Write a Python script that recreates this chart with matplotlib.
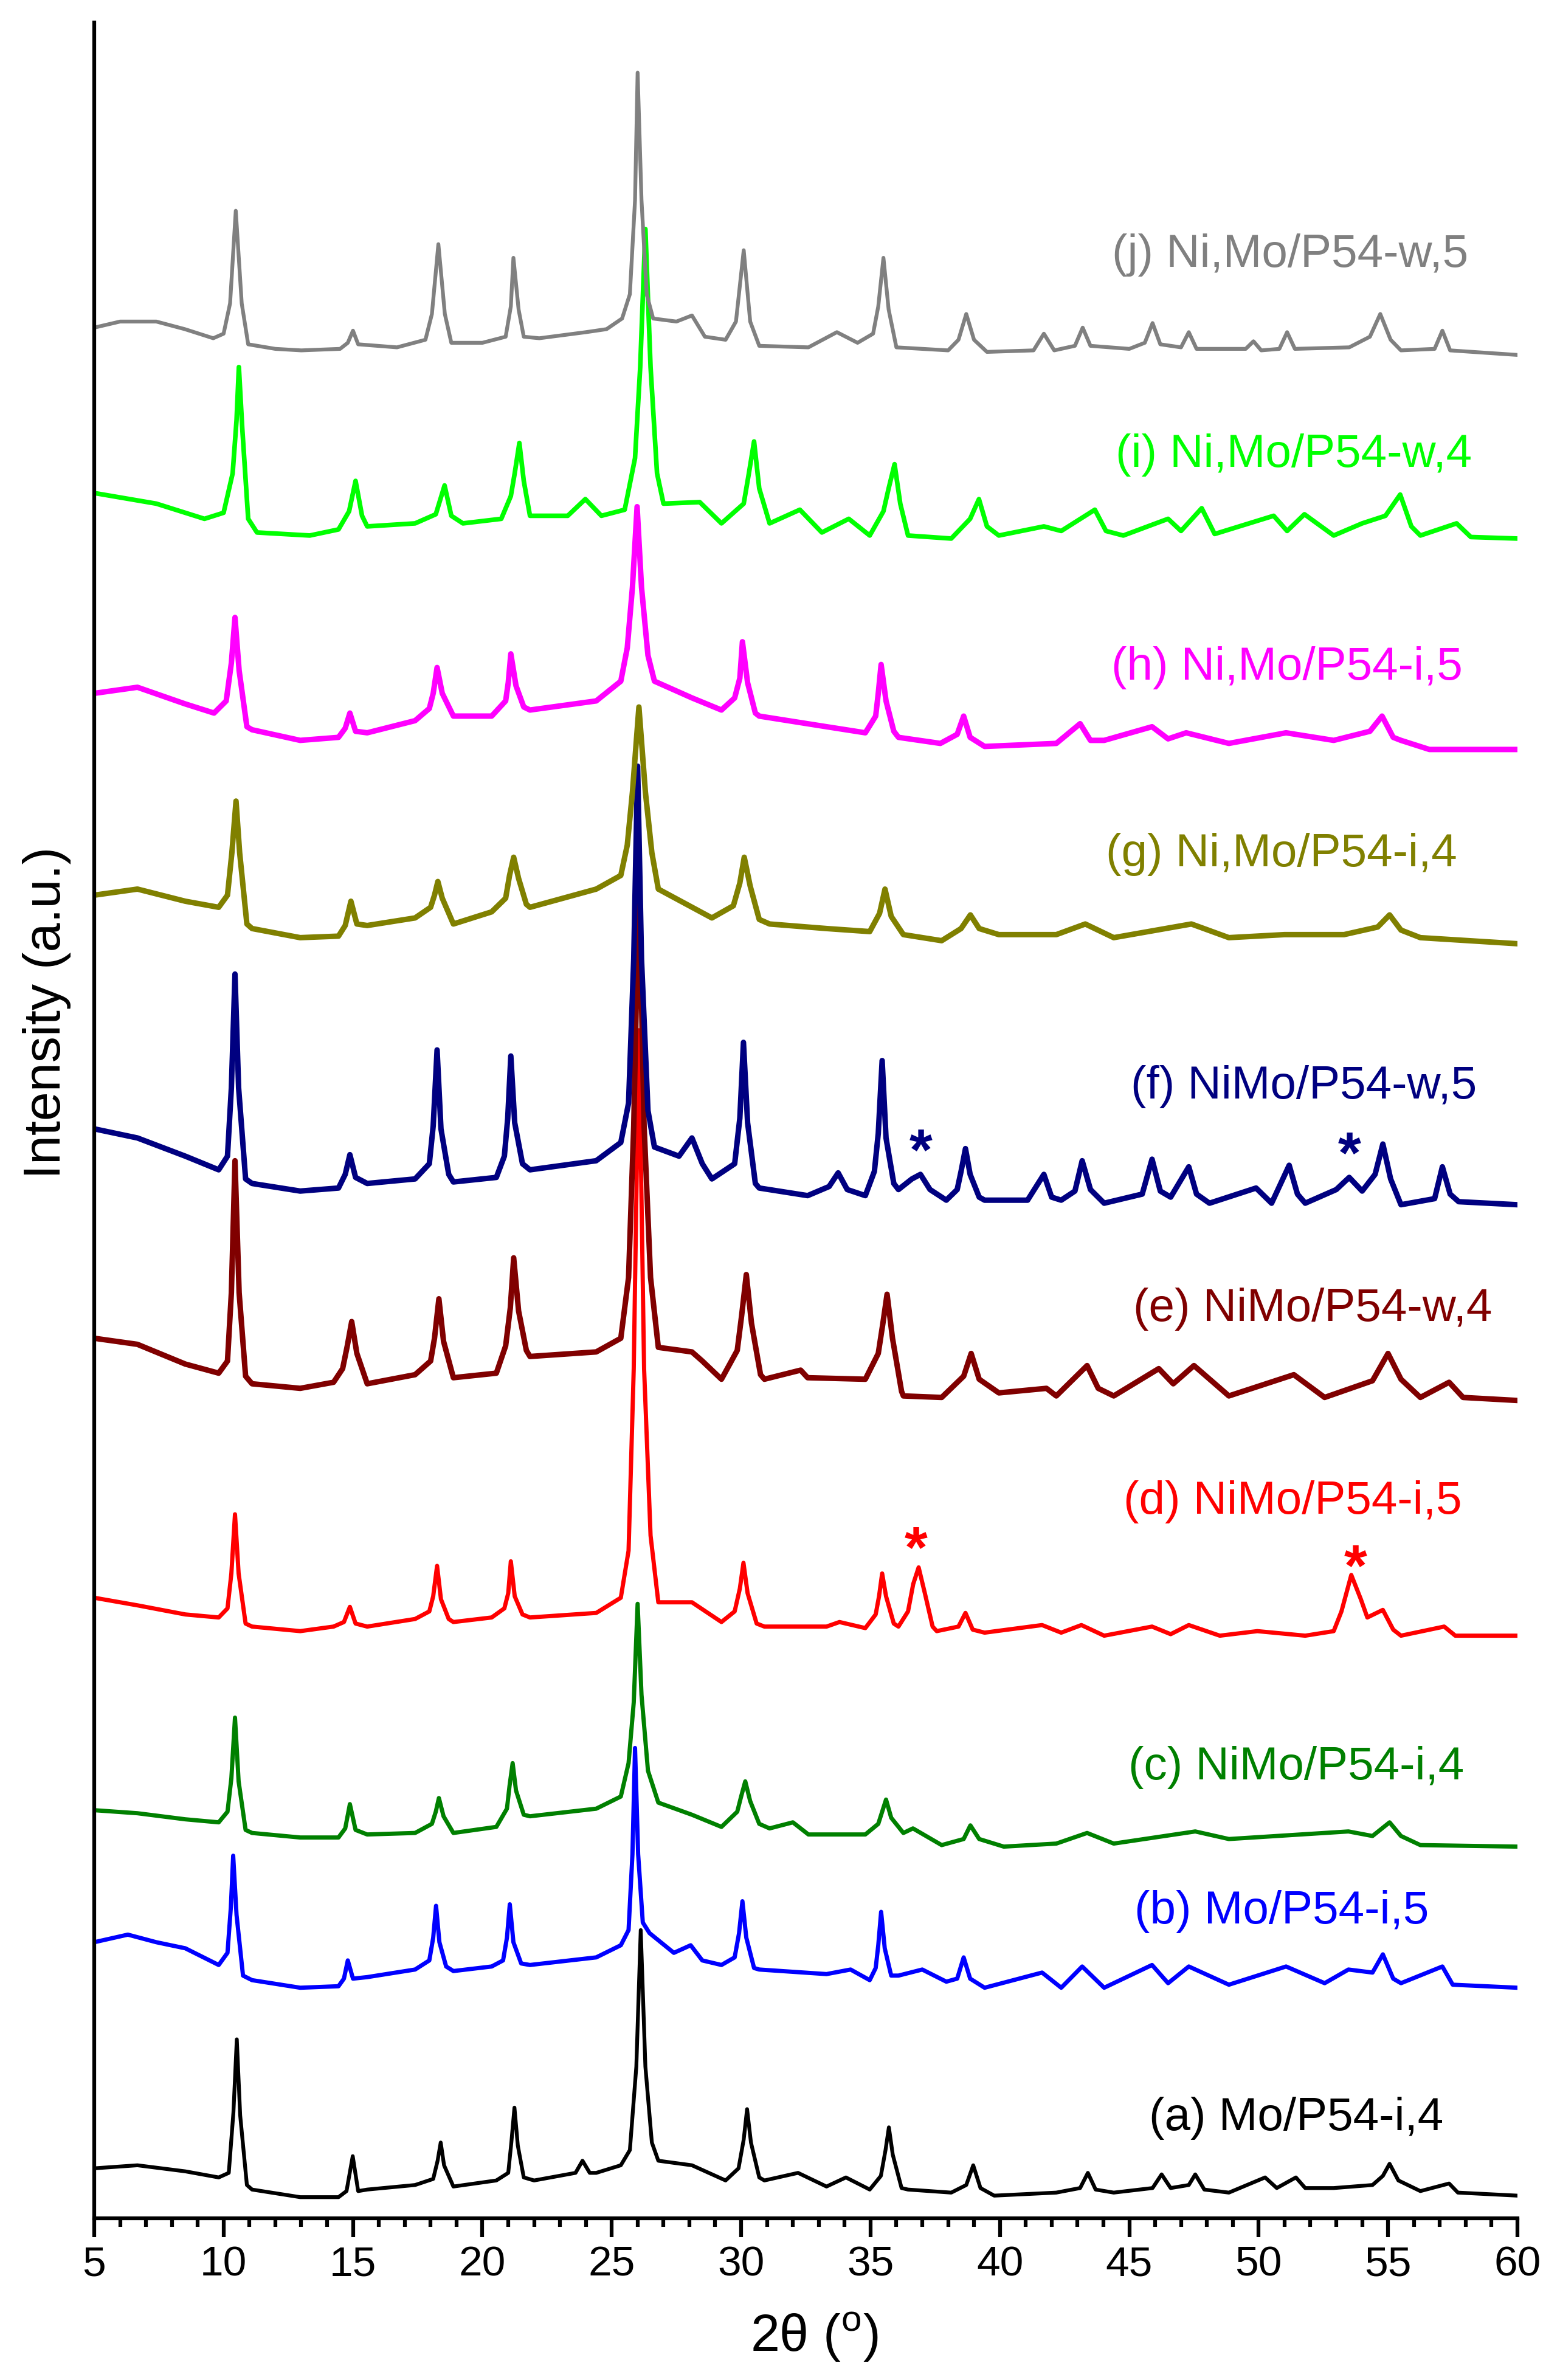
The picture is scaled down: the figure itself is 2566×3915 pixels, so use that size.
import numpy as np
import matplotlib
matplotlib.use("Agg")
import matplotlib.pyplot as plt
from matplotlib.ticker import MultipleLocator

plt.rcParams['font.family'] = ['Liberation Sans', 'DejaVu Sans']
plt.rcParams['mathtext.fontset'] = 'custom'
plt.rcParams['mathtext.rm'] = 'Liberation Sans'

# stacked XRD patterns, (2theta, intensity a.u. incl. offset)
xrd_a = [(5.0, 33), (6.67, 35), (8.52, 31), (9.81, 27), (10.2, 30), (10.38, 70), (10.51, 118), (10.64, 68),
         (10.9, 22), (11.1, 19), (12.96, 14), (14.44, 14), (14.75, 18), (14.99, 41), (15.2, 18), (15.55, 19),
         (17.4, 22), (18.1, 26), (18.27, 38), (18.39, 50), (18.52, 35), (18.88, 21), (20.54, 25), (21.0, 30),
         (21.12, 50), (21.24, 73), (21.37, 48), (21.6, 27), (22.0, 25), (23.6, 30), (23.87, 38), (24.15, 30),
         (24.4, 30), (25.35, 35), (25.7, 45), (25.95, 100), (26.12, 190), (26.3, 100), (26.55, 50), (26.8, 38),
         (28.1, 35), (29.4, 25), (29.9, 33), (30.1, 52), (30.23, 72), (30.38, 50), (30.7, 27), (30.9, 25),
         (32.2, 30), (33.3, 21), (34.05, 27), (34.97, 19), (35.4, 28), (35.58, 45), (35.71, 60), (35.86, 42),
         (36.2, 20), (36.45, 19), (38.12, 17), (38.7, 22), (38.97, 35), (39.25, 20), (39.78, 15), (42.18, 17),
         (43.1, 20), (43.4, 30), (43.7, 19), (44.4, 17), (45.9, 20), (46.25, 29), (46.6, 20), (47.3, 22),
         (47.55, 29), (47.9, 19), (48.85, 17), (50.25, 27), (50.7, 20), (51.44, 27), (51.8, 20), (52.9, 20),
         (54.4, 22), (54.8, 28), (55.06, 36), (55.4, 25), (56.25, 18), (57.36, 23), (57.7, 17), (60.0, 15)]

xrd_b = [(5.0, 182), (6.3, 187), (7.4, 182), (8.52, 178), (9.81, 167), (10.15, 175), (10.28, 205), (10.37, 239),
         (10.5, 200), (10.75, 160), (11.1, 157), (12.96, 152), (14.44, 153), (14.65, 158), (14.8, 170), (15.0, 158),
         (15.55, 159), (17.4, 164), (17.95, 170), (18.1, 185), (18.21, 206), (18.34, 182), (18.6, 166), (18.88, 163),
         (20.36, 166), (20.8, 170), (20.95, 185), (21.06, 207), (21.2, 182), (21.5, 168), (21.84, 167), (24.4, 172),
         (25.35, 180), (25.65, 190), (25.8, 240), (25.9, 310), (26.02, 240), (26.2, 195), (26.46, 188), (27.4, 175),
         (28.05, 180), (28.5, 170), (29.24, 167), (29.75, 172), (29.92, 188), (30.05, 209), (30.2, 185), (30.5, 165),
         (30.7, 164), (33.3, 161), (34.23, 164), (34.97, 157), (35.2, 165), (35.3, 180), (35.41, 202), (35.55, 178),
         (35.8, 160), (36.08, 160), (37.0, 164), (37.93, 156), (38.35, 158), (38.6, 172), (38.85, 158), (39.41, 152),
         (41.63, 162), (42.37, 152), (43.18, 166), (44.03, 152), (45.88, 167), (46.5, 155), (47.3, 166), (48.85, 154),
         (51.06, 166), (52.55, 155), (53.47, 164), (54.4, 162), (54.8, 174), (55.2, 158), (55.5, 155), (57.1, 166),
         (57.5, 154), (60.0, 152)]

xrd_c = [(5.0, 269), (6.67, 267), (8.52, 263), (9.81, 261), (10.15, 268), (10.3, 290), (10.44, 330), (10.58, 288),
         (10.85, 256), (11.1, 254), (12.96, 251), (14.44, 251), (14.7, 257), (14.88, 273), (15.1, 256), (15.55, 253),
         (17.4, 254), (18.05, 260), (18.2, 268), (18.32, 277), (18.5, 265), (18.88, 254), (20.54, 258), (20.95, 270),
         (21.05, 285), (21.17, 300), (21.3, 282), (21.6, 266), (21.84, 265), (24.4, 270), (25.35, 278), (25.65, 300),
         (25.85, 340), (26.0, 405), (26.15, 345), (26.4, 295), (26.8, 274), (28.1, 266), (29.24, 258), (29.85, 268),
         (30.0, 278), (30.16, 288), (30.35, 275), (30.7, 260), (31.1, 257), (32.0, 261), (32.6, 253), (34.8, 253),
         (35.3, 260), (35.45, 268), (35.6, 276), (35.8, 264), (36.27, 254), (36.64, 257), (37.75, 246), (38.6, 250),
         (38.86, 259), (39.2, 250), (40.15, 245), (42.18, 247), (43.37, 254), (44.4, 247), (47.55, 255), (48.85, 250),
         (53.47, 255), (54.4, 252), (55.06, 261), (55.5, 252), (56.25, 246), (60.0, 245)]

xrd_d = [(5.0, 409), (6.67, 404), (8.52, 398), (9.81, 396), (10.15, 402), (10.3, 425), (10.44, 464), (10.58, 425),
         (10.85, 392), (11.1, 390), (12.96, 387), (14.25, 390), (14.65, 393), (14.88, 403), (15.1, 392), (15.55, 390),
         (17.4, 395), (17.95, 400), (18.1, 410), (18.25, 430), (18.4, 408), (18.7, 395), (18.88, 393), (20.36, 396),
         (20.85, 402), (21.0, 412), (21.1, 433), (21.25, 410), (21.55, 398), (21.84, 396), (24.4, 399), (25.35, 409),
         (25.65, 440), (25.85, 560), (26.05, 783), (26.25, 560), (26.5, 450), (26.8, 406), (28.1, 406), (29.24, 393),
         (29.75, 400), (29.95, 415), (30.09, 432), (30.25, 412), (30.6, 392), (30.9, 390), (33.3, 390), (33.8, 393),
         (34.8, 389), (35.2, 398), (35.33, 410), (35.45, 425), (35.6, 410), (35.9, 392), (36.08, 390), (36.45, 400),
         (36.65, 418), (36.86, 429), (37.1, 412), (37.4, 390), (37.56, 387), (38.4, 390), (38.67, 399), (38.95, 388),
         (39.41, 386), (41.63, 391), (42.37, 386), (43.15, 391), (44.03, 384), (45.88, 390), (46.6, 385), (47.3, 391),
         (48.5, 384), (49.95, 387), (51.8, 384), (52.9, 387), (53.2, 400), (53.58, 424), (53.95, 408), (54.2, 396),
         (54.8, 401), (55.2, 388), (55.5, 384), (57.17, 390), (57.6, 384), (60.0, 384)]

xrd_e = [(5.0, 580), (6.67, 576), (8.52, 563), (9.81, 557), (10.15, 565), (10.3, 610), (10.44, 697), (10.6, 610),
         (10.85, 555), (11.1, 550), (12.96, 547), (14.25, 551), (14.6, 560), (14.78, 575), (14.95, 591), (15.15, 570),
         (15.55, 550), (17.4, 556), (18.0, 565), (18.15, 580), (18.32, 606), (18.5, 578), (18.88, 554), (20.54, 557),
         (20.9, 575), (21.08, 600), (21.21, 633), (21.4, 598), (21.7, 572), (21.84, 568), (24.4, 571), (25.35, 580),
         (25.65, 620), (25.85, 720), (26.05, 885), (26.25, 720), (26.5, 620), (26.8, 574), (28.1, 571), (28.5, 565),
         (29.24, 553), (29.85, 572), (30.02, 595), (30.2, 622), (30.4, 590), (30.75, 556), (30.9, 553), (32.3, 559),
         (32.57, 554), (34.8, 553), (35.3, 570), (35.48, 590), (35.64, 609), (35.85, 580), (36.2, 545), (36.27, 542),
         (37.75, 541), (38.6, 555), (38.89, 570), (39.2, 553), (39.96, 544), (41.8, 547), (42.18, 542), (43.37, 562),
         (43.8, 547), (44.4, 542), (46.14, 560), (46.7, 550), (47.5, 562), (48.85, 542), (51.36, 556), (52.55, 541),
         (54.4, 552), (55.0, 570), (55.5, 553), (56.25, 541), (57.36, 551), (57.9, 541), (60.0, 539)]

xrd_f = [(5.0, 718), (6.67, 712), (8.52, 700), (9.81, 691), (10.15, 700), (10.3, 745), (10.44, 820), (10.58, 745),
         (10.85, 685), (11.1, 682), (12.96, 677), (14.44, 679), (14.7, 688), (14.88, 701), (15.1, 686), (15.55, 682),
         (17.4, 685), (17.95, 695), (18.1, 720), (18.25, 770), (18.4, 718), (18.7, 688), (18.88, 683), (20.54, 686),
         (20.85, 700), (20.98, 725), (21.1, 766), (21.25, 722), (21.55, 695), (21.84, 691), (24.4, 697), (25.35, 709),
         (25.65, 735), (25.85, 830), (26.0, 957), (26.15, 830), (26.4, 730), (26.65, 706), (27.6, 700), (28.1, 712),
         (28.5, 695), (28.87, 685), (29.75, 695), (29.95, 725), (30.09, 775), (30.25, 722), (30.55, 682), (30.7, 679),
         (32.57, 674), (33.4, 680), (33.75, 689), (34.1, 678), (34.8, 674), (35.15, 690), (35.3, 715), (35.45, 763),
         (35.6, 712), (35.9, 682), (36.08, 678), (36.6, 685), (36.93, 688), (37.3, 678), (37.93, 671), (38.35, 678),
         (38.5, 690), (38.67, 705), (38.85, 688), (39.2, 673), (39.41, 671), (41.07, 671), (41.7, 688), (42.0, 673),
         (42.37, 671), (42.9, 677), (43.18, 697), (43.5, 678), (44.03, 669), (45.5, 675), (45.88, 698), (46.2, 677),
         (46.6, 673), (47.3, 693), (47.6, 675), (48.1, 669), (49.9, 679), (50.5, 669), (51.18, 694), (51.5, 675),
         (51.8, 669), (53.0, 678), (53.5, 686), (54.0, 677), (54.5, 688), (54.8, 708), (55.1, 685), (55.5, 668),
         (56.8, 672), (57.1, 693), (57.4, 675), (57.73, 670), (60.0, 668)]

xrd_g = [(5.0, 872), (6.67, 876), (8.52, 868), (9.81, 864), (10.15, 872), (10.32, 900), (10.48, 934), (10.62, 900),
         (10.9, 853), (11.1, 850), (12.96, 844), (14.44, 845), (14.7, 852), (14.92, 868), (15.15, 853), (15.55, 852),
         (17.4, 857), (18.0, 864), (18.15, 872), (18.28, 881), (18.45, 870), (18.88, 853), (20.36, 861), (20.9, 870),
         (21.05, 885), (21.21, 897), (21.4, 883), (21.7, 866), (21.84, 864), (24.4, 876), (25.35, 885), (25.6, 905),
         (25.8, 940), (26.05, 996), (26.3, 940), (26.55, 900), (26.8, 876), (28.87, 857), (29.7, 865), (29.95, 880),
         (30.12, 897), (30.35, 878), (30.7, 856), (31.1, 853), (33.3, 850), (34.97, 848), (35.35, 860), (35.56, 876),
         (35.8, 858), (36.27, 846), (37.75, 842), (38.5, 850), (38.86, 859), (39.2, 850), (39.96, 846), (42.18, 846),
         (43.3, 853), (44.4, 844), (47.4, 853), (48.85, 844), (51.0, 846), (53.3, 846), (54.6, 851), (55.06, 859),
         (55.5, 849), (56.25, 844), (60.0, 840)]

xrd_h = [(5.0, 1005), (6.67, 1009), (8.52, 998), (9.63, 992), (10.1, 1000), (10.3, 1025), (10.44, 1055), (10.6, 1020),
         (10.9, 983), (11.1, 981), (12.96, 974), (14.44, 976), (14.7, 982), (14.88, 992), (15.1, 980), (15.55, 979),
         (17.4, 987), (17.95, 995), (18.1, 1005), (18.25, 1022), (18.45, 1005), (18.88, 990), (20.36, 990), (20.9, 1000),
         (21.0, 1012), (21.1, 1031), (21.3, 1010), (21.6, 996), (21.84, 994), (24.4, 1000), (25.35, 1013), (25.6, 1035),
         (25.8, 1075), (25.98, 1128), (26.15, 1075), (26.4, 1030), (26.65, 1013), (28.1, 1002), (29.24, 994),
         (29.75, 1002), (29.95, 1015), (30.05, 1039), (30.25, 1012), (30.55, 992), (30.7, 990), (33.3, 983), (34.8, 979),
         (35.2, 990), (35.3, 1005), (35.41, 1024), (35.6, 1000), (35.9, 980), (36.08, 976), (37.7, 972), (38.35, 978),
         (38.6, 990), (38.85, 976), (39.41, 970), (42.18, 972), (43.1, 985), (43.5, 974), (44.03, 974), (45.88, 983),
         (46.5, 975), (47.2, 979), (48.85, 972), (51.06, 979), (52.9, 974), (54.3, 980), (54.77, 990), (55.2, 976),
         (55.5, 974), (56.6, 968), (60.0, 968)]

xrd_i = [(5.0, 1137), (7.4, 1130), (9.26, 1120), (10.0, 1124), (10.35, 1150), (10.5, 1185), (10.59, 1220),
         (10.72, 1180), (10.95, 1120), (11.29, 1111), (13.33, 1109), (14.44, 1113), (14.85, 1125), (15.1, 1145),
         (15.35, 1122), (15.55, 1115), (17.4, 1117), (18.2, 1123), (18.54, 1142), (18.8, 1122), (19.25, 1117),
         (20.73, 1120), (21.1, 1135), (21.25, 1150), (21.43, 1170), (21.6, 1145), (21.84, 1122), (23.3, 1122),
         (23.98, 1133), (24.6, 1122), (25.5, 1126), (25.9, 1160), (26.1, 1220), (26.3, 1311), (26.5, 1220),
         (26.75, 1150), (27.0, 1130), (28.4, 1131), (29.24, 1117), (30.1, 1130), (30.3, 1150), (30.5, 1171),
         (30.7, 1140), (31.1, 1117), (32.27, 1126), (33.12, 1111), (34.16, 1120), (34.97, 1109), (35.5, 1125),
         (35.7, 1140), (35.93, 1156), (36.15, 1130), (36.45, 1109), (38.12, 1107), (38.85, 1120), (39.19, 1133),
         (39.5, 1115), (39.96, 1109), (41.7, 1115), (42.37, 1112), (43.67, 1126), (44.1, 1112), (44.77, 1109),
         (46.5, 1120), (47.0, 1112), (47.8, 1127), (48.3, 1110), (50.58, 1122), (51.1, 1112), (51.77, 1123),
         (52.9, 1109), (54.0, 1117), (54.9, 1122), (55.47, 1136), (55.9, 1115), (56.25, 1109), (57.65, 1117),
         (58.2, 1108), (60.0, 1107)]

xrd_j = [(5.0, 1246), (6.0, 1250), (7.4, 1250), (8.5, 1245), (9.6, 1239), (10.0, 1242), (10.25, 1262), (10.47, 1323),
         (10.7, 1262), (10.95, 1235), (12.0, 1232), (13.0, 1231), (14.5, 1232), (14.8, 1236), (15.0, 1244), (15.2, 1235),
         (16.7, 1233), (17.8, 1238), (18.05, 1255), (18.3, 1301), (18.55, 1255), (18.8, 1236), (20.0, 1236),
         (20.9, 1240), (21.1, 1260), (21.2, 1292), (21.4, 1258), (21.6, 1240), (22.2, 1239), (24.0, 1243),
         (24.8, 1245), (25.4, 1252), (25.7, 1268), (25.9, 1330), (26.0, 1414), (26.15, 1330), (26.35, 1268),
         (26.6, 1252), (27.5, 1250), (28.1, 1254), (28.6, 1240), (29.4, 1238), (29.8, 1250), (30.1, 1297),
         (30.35, 1250), (30.7, 1234), (32.6, 1233), (33.7, 1243), (34.5, 1236), (35.1, 1242), (35.3, 1260),
         (35.5, 1292), (35.7, 1258), (36.0, 1233), (38.0, 1231), (38.4, 1238), (38.7, 1255), (39.0, 1238),
         (39.5, 1230), (41.3, 1231), (41.7, 1242), (42.1, 1231), (42.9, 1234), (43.2, 1246), (43.5, 1234),
         (45.0, 1232), (45.6, 1236), (45.9, 1249), (46.2, 1235), (47.0, 1233), (47.3, 1243), (47.6, 1232),
         (49.5, 1232), (49.8, 1237), (50.1, 1231), (50.8, 1232), (51.1, 1243), (51.4, 1232), (53.5, 1233),
         (54.3, 1240), (54.7, 1255), (55.1, 1238), (55.5, 1231), (56.8, 1232), (57.1, 1244), (57.4, 1231),
         (60.0, 1228)]

patterns = [xrd_a, xrd_b, xrd_c, xrd_d, xrd_e, xrd_f, xrd_g, xrd_h, xrd_i, xrd_j]
names = ["(a) Mo/P54-i,4", "(b) Mo/P54-i,5", "(c) NiMo/P54-i,4", "(d) NiMo/P54-i,5", "(e) NiMo/P54-w,4",
         "(f) NiMo/P54-w,5", "(g) Ni,Mo/P54-i,4", "(h) Ni,Mo/P54-i,5", "(i) Ni,Mo/P54-w,4", "(j) Ni,Mo/P54-w,5"]
colors = ["#000000", "#0000FF", "#008000", "#FF0000", "#800000",
          "#000080", "#808000", "#FF00FF", "#00FF00", "#808080"]
widths = [4.5, 5.0, 5.0, 5.0, 6.5, 6.5, 6.5, 6.5, 5.5, 4.5]
label_x = [45.77, 45.2, 44.96, 44.78, 45.15, 45.07, 44.1, 44.3, 44.48, 44.33]
label_y = [66, 202, 297, 472, 599, 746, 899, 1022, 1162, 1294]

# asterisks marking the extra reflections in (d) and (f)
star_x = [36.75, 53.75, 36.95, 53.5]
star_y = [452, 440, 714, 712]
star_c = ["#FF0000", "#FF0000", "#000080", "#000080"]

fig = plt.figure(figsize=(25.66, 39.15), dpi=100)
ax = fig.add_axes([0.0604, 0.0679, 0.9123, 0.9226])

for pat, col, lw in zip(patterns, colors, widths):
    tt = [p[0] for p in pat]
    yy = [p[1] for p in pat]
    ax.plot(tt, yy, color=col, lw=lw)

for name, col, lx, ly in zip(names, colors, label_x, label_y):
    ax.text(lx, ly, name, color=col, fontsize=55, ha='left', va='center')

for sx, sy, sc in zip(star_x, star_y, star_c):
    ax.annotate('*', (sx, sy), xytext=(0, -41), textcoords='offset points',
                ha='center', va='baseline', fontsize=70, fontweight='bold', color=sc)

ax.set_xlim(5, 60)
ax.set_ylim(0, 1447)
ax.xaxis.set_major_locator(MultipleLocator(5))
ax.xaxis.set_minor_locator(MultipleLocator(1))
ax.set_yticks([])
for s in ['top', 'right']:
    ax.spines[s].set_visible(False)
for s in ['left', 'bottom']:
    ax.spines[s].set_linewidth(4.5)
ax.tick_params(axis='x', which='major', direction='out', length=22, width=4.5,
               labelsize=50, pad=10)
ax.tick_params(axis='x', which='minor', direction='out', length=10, width=4.5)

ax.set_xlabel(r'2θ ($^\mathregular{o}$)', fontsize=62)
ax.xaxis.set_label_coords(0.506, -0.054)
ax.xaxis.label.set_va('center')
ax.set_ylabel('Intensity (a.u.)', fontsize=62)
ax.yaxis.set_label_coords(-0.0335, 0.549)
ax.yaxis.label.set_va('center')

fig.savefig('out.png', dpi=100)
